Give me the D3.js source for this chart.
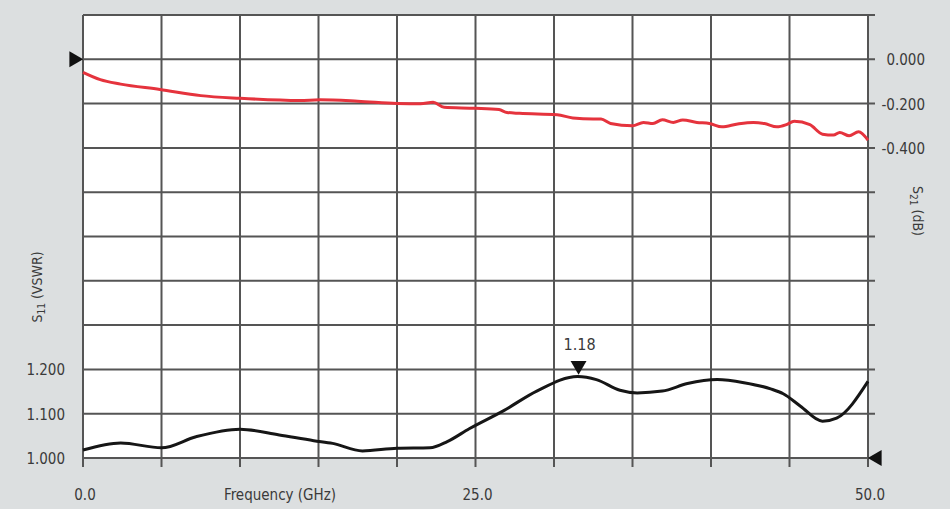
<!DOCTYPE html>
<html>
<head>
<meta charset="utf-8">
<script src="https://cdn.jsdelivr.net/npm/d3@7"></script>
<style>
  html, body { margin: 0; padding: 0; background: #dcdfe0; }
  svg { display: block; }
  text { font-family: "DejaVu Sans Condensed", "Liberation Sans", Arial, sans-serif; fill: #3a3a3a; }
</style>
</head>
<body>
<div id="chart"></div>
<script>
// S21 insertion loss (dB)
const s21Freq = [0, 1.1, 2.4, 4.9, 7.5, 10, 13.8, 15.1, 17.5, 20, 21.5, 22.3, 23, 25, 26.5, 27, 27.8,
  30.2, 31.2, 32.5, 33, 33.6, 35, 35.7, 36.3, 36.9, 37.6, 38.2, 39.1, 39.9, 40.7, 41.7, 42.7, 43.4,
  44.2, 44.8, 45.3, 46.3, 47.1, 47.8, 48.2, 48.8, 49.4, 50]
const s21Values = [-0.059, -0.092, -0.112, -0.136, -0.164, -0.176, -0.186, -0.183, -0.189, -0.199,
  -0.201, -0.194, -0.217, -0.221, -0.227, -0.240, -0.244, -0.250, -0.265, -0.270, -0.270, -0.290,
  -0.300, -0.285, -0.290, -0.273, -0.285, -0.274, -0.285, -0.290, -0.305, -0.292, -0.285, -0.290,
  -0.305, -0.295, -0.280, -0.295, -0.338, -0.342, -0.330, -0.345, -0.327, -0.365]

// S11 VSWR
const s11Freq = [0, 2.4, 5, 7.2, 10, 12.5, 14.7, 15.9, 17.8, 20, 22.1, 23.2, 24.6, 26.8, 28.9,
  31.5, 32.7, 34.2, 35.3, 36.9, 38.5, 40.4, 42.1, 43.8, 44.6, 45.7, 47.1, 48.0, 50]
const s11Values = [1.018, 1.034, 1.023, 1.048, 1.065, 1.052, 1.039, 1.033, 1.016, 1.022, 1.023,
  1.037, 1.066, 1.107, 1.151, 1.184, 1.177, 1.153, 1.147, 1.151, 1.168, 1.177, 1.170, 1.156, 1.145,
  1.117, 1.083, 1.090, 1.173]

// axis ticks
const xGridTicks = d3.range(0, 50.01, 5)
const xLabelTicks = [0, 25, 50]
const leftGridTicks = d3.range(0, 11).map(i => 1 + i * 0.1)
const leftLabelTicks = [1.0, 1.1, 1.2]
const rightLabelTicks = [0, -0.2, -0.4]
const peakLabel = '1.18'

const width = 950
const height = 509
const margin = { top: 15, right: 82, bottom: 51, left: 83 }

const svg = d3.select('#chart')
  .append('svg')
  .attr('width', width)
  .attr('height', height)

svg.append('rect')
  .attr('width', width)
  .attr('height', height)
  .attr('fill', '#dcdfe0')

const x = d3.scaleLinear().domain([0, 50]).range([margin.left, width - margin.right])
const yLeft = d3.scaleLinear().domain([1.0, 2.0]).range([height - margin.bottom, margin.top])
const yRight = d3.scaleLinear().domain([-1.8, 0.2]).range([height - margin.bottom, margin.top])

const plotBottom = yLeft(1.0)
const plotTop = yLeft(2.0)
const plotRight = x(50)

// Plot area
svg.append('rect')
  .attr('x', x(0))
  .attr('y', plotTop)
  .attr('width', x(50) - x(0))
  .attr('height', plotBottom - plotTop)
  .attr('fill', '#ffffff')

const gridColor = '#555555'

// Vertical grid lines (with tick stubs below the plot)
svg.append('g')
  .selectAll('line')
  .data(xGridTicks)
  .join('line')
  .attr('x1', d => x(d))
  .attr('x2', d => x(d))
  .attr('y1', plotTop)
  .attr('y2', plotBottom + 9)
  .attr('stroke', gridColor)
  .attr('stroke-width', 2)

// Horizontal grid lines (extend a little past the right edge)
svg.append('g')
  .selectAll('line')
  .data(leftGridTicks)
  .join('line')
  .attr('x1', x(0))
  .attr('x2', d => d === 1.0 ? plotRight : plotRight + 7)
  .attr('y1', d => yLeft(d))
  .attr('y2', d => yLeft(d))
  .attr('stroke', gridColor)
  .attr('stroke-width', 2)

// Curves
const s21Line = d3.line()
  .x((d, i) => x(s21Freq[i]))
  .y(d => yRight(d))
  .curve(d3.curveMonotoneX)

svg.append('path')
  .datum(s21Values)
  .attr('fill', 'none')
  .attr('stroke', '#e5333d')
  .attr('stroke-width', 3)
  .attr('stroke-linejoin', 'round')
  .attr('d', s21Line)

const s11Line = d3.line()
  .x((d, i) => x(s11Freq[i]))
  .y(d => yLeft(d))
  .curve(d3.curveMonotoneX)

svg.append('path')
  .datum(s11Values)
  .attr('fill', 'none')
  .attr('stroke', '#161616')
  .attr('stroke-width', 3)
  .attr('stroke-linejoin', 'round')
  .attr('d', s11Line)

// Peak marker
const peakIdx = d3.maxIndex(s11Values)
const px = x(s11Freq[peakIdx])
const py = yLeft(s11Values[peakIdx])
const tri = d3.symbol(d3.symbolTriangle, 110)

svg.append('path')
  .attr('d', tri)
  .attr('transform', `translate(${px + 1},${py - 11}) rotate(180)`)
  .attr('fill', '#111')

svg.append('text')
  .attr('x', px + 2)
  .attr('y', py - 26)
  .attr('text-anchor', 'middle')
  .attr('font-size', '16px')
  .attr('fill', '#222')
  .text(peakLabel)

// Reference arrows at the axis ends
svg.append('path')
  .attr('d', tri)
  .attr('transform', `translate(${x(0) - 9},${yRight(0)}) rotate(90)`)
  .attr('fill', '#111')

svg.append('path')
  .attr('d', tri)
  .attr('transform', `translate(${plotRight + 9},${yLeft(1.0)}) rotate(-90)`)
  .attr('fill', '#111')

// Tick labels
svg.append('g')
  .selectAll('text')
  .data(xLabelTicks)
  .join('text')
  .attr('x', d => x(d) + 2)
  .attr('y', 500)
  .attr('text-anchor', 'middle')
  .attr('font-size', '15px')
  .text(d => d.toFixed(1))

svg.append('g')
  .selectAll('text')
  .data(leftLabelTicks)
  .join('text')
  .attr('x', 65)
  .attr('y', d => yLeft(d) + 6)
  .attr('text-anchor', 'end')
  .attr('font-size', '15px')
  .text(d => d.toFixed(3))

svg.append('g')
  .selectAll('text')
  .data(rightLabelTicks)
  .join('text')
  .attr('x', 925)
  .attr('y', d => yRight(d) + 6)
  .attr('text-anchor', 'end')
  .attr('font-size', '15px')
  .text(d => d === 0 ? '0.000' : '-' + Math.abs(d).toFixed(3))

// Axis titles
svg.append('text')
  .attr('x', 280)
  .attr('y', 500)
  .attr('text-anchor', 'middle')
  .attr('font-size', '15px')
  .text('Frequency (GHz)')

const leftTitle = svg.append('text')
  .attr('transform', 'translate(42,287) rotate(-90)')
  .attr('text-anchor', 'middle')
  .attr('font-size', '14px')
leftTitle.append('tspan').text('S')
leftTitle.append('tspan').attr('font-size', '10px').attr('dy', 3).text('11')
leftTitle.append('tspan').attr('dy', -3).text(' (VSWR)')

const rightTitle = svg.append('text')
  .attr('transform', 'translate(913,211) rotate(90)')
  .attr('text-anchor', 'middle')
  .attr('font-size', '14px')
rightTitle.append('tspan').text('S')
rightTitle.append('tspan').attr('font-size', '10px').attr('dy', 3).text('21')
rightTitle.append('tspan').attr('dy', -3).text(' (dB)')
</script>
</body>
</html>
